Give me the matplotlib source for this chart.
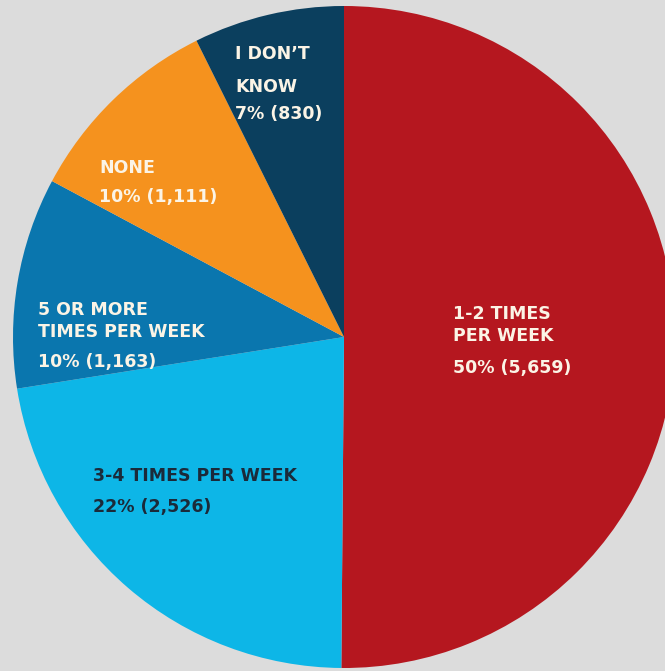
import matplotlib
matplotlib.use("Agg")
import matplotlib.pyplot as plt

# survey answers and counts (clockwise from 12 o'clock)
categories = ["1-2 TIMES PER WEEK", "3-4 TIMES PER WEEK", "5 OR MORE TIMES PER WEEK", "NONE", "I DON’T KNOW"]
counts = [5659, 2526, 1163, 1111, 830]
pct_labels = ["50% (5,659)", "22% (2,526)", "10% (1,163)", "10% (1,111)", "7% (830)"]
name_lines = [
    ["1-2 TIMES", "PER WEEK"],
    ["3-4 TIMES PER WEEK"],
    ["5 OR MORE", "TIMES PER WEEK"],
    ["NONE"],
    ["I DON’T", "KNOW"],
]
colors = ["#b5171f", "#0db6e7", "#0a76ae", "#f5921e", "#0b3f5e"]
text_colors = ["#fbf4e6", "#1b2a3a", "#fbf4e6", "#fbf4e6", "#fbf4e6"]

# label layout in pixels (left x, baselines from top)
label_x = [453, 93, 38, 99, 235]
label_baselines = [[319, 341, 373], [481, 512], [315, 337, 367], [173, 202], [59, 92, 119]]

W, H = 665, 671
fig = plt.figure(figsize=(W / 100, H / 100), dpi=100)
fig.patch.set_facecolor("#dcdcdc")
ax = fig.add_axes([0, 0, 1, 1])
ax.set_facecolor("#dcdcdc")

ax.pie(counts, colors=colors, startangle=90, counterclock=False,
       center=(344, H - 337), radius=331,
       wedgeprops=dict(linewidth=0))
ax.set_xlim(0, W)
ax.set_ylim(0, H)
ax.set_aspect("equal")
ax.axis("off")

for i in range(len(categories)):
    lines = name_lines[i] + [pct_labels[i]]
    for line, base in zip(lines, label_baselines[i]):
        ax.text(label_x[i], H - base, line, color=text_colors[i],
                fontsize=12.5, fontweight="bold", family="DejaVu Sans",
                ha="left", va="baseline")

fig.savefig("out.png", dpi=100, facecolor=fig.get_facecolor())
